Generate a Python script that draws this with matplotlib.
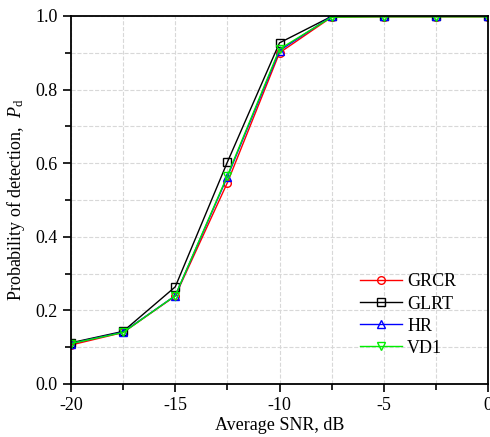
import matplotlib.pyplot as plt
import numpy as np

# SNR values (dB) and detection probabilities
snr = [-20, -17.5, -15, -12.5, -10, -7.5, -5, -2.5, 0]
pd_grcr = [0.106, 0.140, 0.239, 0.547, 0.900, 0.997, 0.998, 0.998, 0.998]
pd_glrt = [0.112, 0.143, 0.264, 0.603, 0.927, 0.999, 0.999, 0.999, 0.999]
pd_hr = [0.110, 0.141, 0.240, 0.563, 0.906, 0.999, 0.999, 0.999, 0.999]
pd_vd1 = [0.110, 0.140, 0.240, 0.566, 0.910, 0.997, 0.998, 0.998, 0.998]

plt.rcParams['font.family'] = ['Liberation Serif', 'DejaVu Serif']
plt.rcParams['mathtext.fontset'] = 'custom'
plt.rcParams['mathtext.it'] = 'Liberation Serif:italic'
plt.rcParams['mathtext.rm'] = 'Liberation Serif'

fig = plt.figure(figsize=(4.9, 4.37), dpi=100)
ax = fig.add_axes([71 / 490, 1 - 384 / 437, 417 / 490, 368 / 437])

ms = 5.5
ax.plot(snr, pd_grcr, color='red', lw=1, marker='o', ms=ms, mfc='none', label='GRCR')
ax.plot(snr, pd_glrt, color='black', lw=1, marker='s', ms=ms, mfc='none', label='GLRT')
ax.plot(snr, pd_hr, color='blue', lw=1, marker='^', ms=ms, mfc='none', label='HR')
ax.plot(snr, pd_vd1, color='#00ee00', lw=1, marker='v', ms=ms, mfc='none', label='VD1')

ax.set_xlim(-20, 0)
ax.set_ylim(0, 1)
ax.set_xticks([-20, -15, -10, -5, 0])
ax.set_xticks(np.arange(-17.5, 0, 5), minor=True)
ax.set_yticks(np.arange(0, 1.01, 0.2))
ax.set_yticks(np.arange(0.1, 1.0, 0.2), minor=True)
ax.set_xticklabels(['-20', '-15', '-10', '-5', '0'])
ax.set_yticklabels(['0.0', '0.2', '0.4', '0.6', '0.8', '1.0'])

ax.grid(True, which='both', ls='--', color='#d8d8d8', lw=0.8)
ax.set_axisbelow(True)
ax.tick_params(which='both', direction='out', labelsize=13, width=1.2)
ax.tick_params(which='major', length=6)
ax.tick_params(which='minor', length=4)
for s in ax.spines.values():
    s.set_linewidth(1.3)

ax.set_xlabel('Average SNR, dB', fontsize=13, labelpad=2)
ax.set_ylabel(r'Probability of detection,  $P_\mathrm{d}$', fontsize=13, labelpad=6)

ax.legend(loc='lower right', frameon=False, fontsize=13, handlelength=2.3,
          handletextpad=0.3, borderaxespad=0.3, labelspacing=0.28,
          bbox_to_anchor=(0.954, 0.04))

fig.savefig('out.png', dpi=100)
